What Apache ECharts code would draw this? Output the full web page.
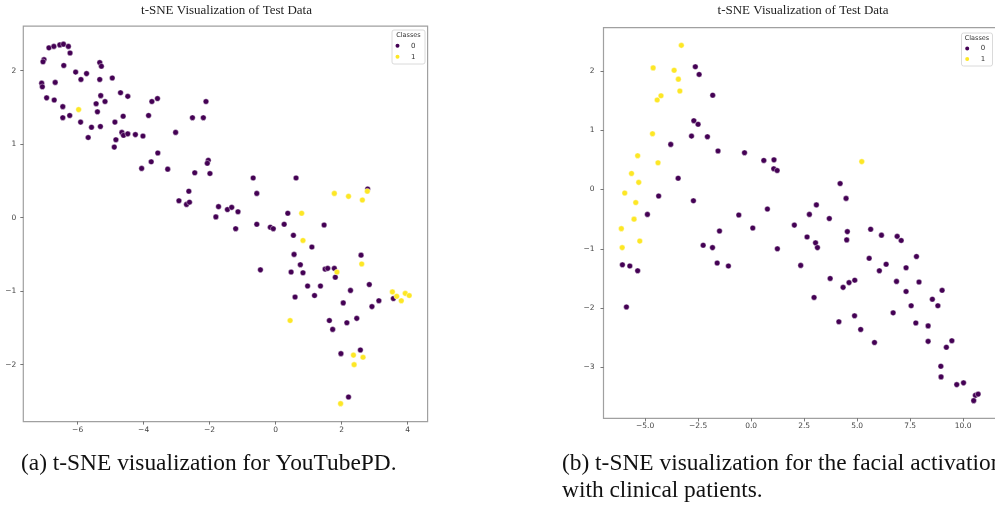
<!DOCTYPE html>
<html>
<head>
<meta charset="utf-8">
<script src="https://cdn.jsdelivr.net/npm/echarts@6/dist/echarts.min.js"></script>
<style>
  html, body { margin: 0; padding: 0; background: #fff; }
  #chart { width: 995px; height: 513px; }
</style>
</head>
<body>
<div id="chart"></div>
<script>
// ── Data: panel (a) YouTubePD, [x, y] per point ─────────────────────────
const ytpdClass0 = [
  [-6.87,2.31],[-6.72,2.33],[-6.54,2.35],[-6.43,2.36],[-6.28,2.33],[-6.23,2.24],[-7.02,2.15],[-7.05,2.12],[-6.42,2.07],[-5.33,2.11],[-5.28,2.06],
  [-7.09,1.83],[-7.07,1.78],[-6.68,1.84],[-6.06,1.98],[-5.90,1.88],[-5.73,1.96],[-5.33,1.88],[-4.95,1.90],
  [-6.94,1.63],[-6.71,1.60],[-6.45,1.51],[-6.45,1.36],[-6.24,1.39],[-5.91,1.30],[-5.44,1.55],[-5.30,1.66],[-5.17,1.58],[-5.40,1.44],[-5.58,1.23],[-5.31,1.24],[-5.68,1.09],
  [-4.70,1.70],[-4.48,1.65],[-4.62,1.38],[-4.87,1.30],[-4.66,1.16],[-4.61,1.12],[-4.48,1.14],[-4.25,1.13],[-4.02,1.11],[-4.84,1.06],[-4.89,0.96],
  [-3.75,1.58],[-3.58,1.62],[-3.85,1.39],[-3.03,1.16],[-2.11,1.58],[-2.52,1.36],[-2.19,1.36],
  [-3.57,0.88],[-3.77,0.76],[-4.06,0.67],[-3.27,0.66],[-2.45,0.61],[-2.04,0.78],[-2.07,0.74],[-1.99,0.60],
  [-0.68,0.54],[0.62,0.54],[-0.57,0.33],[-2.63,0.36],[-2.93,0.23],[-2.70,0.18],[-2.61,0.21],[2.79,0.39],
  [-1.73,0.15],[-1.46,0.11],[-1.33,0.14],[-1.14,0.08],[-1.81,0.01],[0.37,0.06],[1.47,-0.10],[-0.57,-0.09],[-0.16,-0.13],[-0.07,-0.15],[0.26,-0.09],[-1.21,-0.15],
  [0.54,-0.24],[1.10,-0.40],[0.56,-0.50],[2.59,-0.51],[0.75,-0.64],[-0.46,-0.71],[0.47,-0.74],[0.83,-0.75],[1.50,-0.70],[1.58,-0.69],[1.78,-0.69],[1.81,-0.81],
  [0.97,-0.93],[1.36,-0.93],[2.27,-0.99],[2.84,-0.91],[0.59,-1.08],[1.18,-1.06],[2.05,-1.16],[2.92,-1.21],[3.13,-1.13],[3.57,-1.10],
  [1.63,-1.40],[1.73,-1.52],[2.16,-1.43],[2.46,-1.37],[1.98,-1.85],[2.57,-1.80],[2.21,-2.44]
];
const ytpdClass1 = [
  [-5.97,1.47],[1.78,0.33],[2.21,0.29],[2.63,0.24],[2.78,0.36],[0.79,0.06],[0.83,-0.31],[2.61,-0.63],[1.86,-0.74],
  [3.54,-1.01],[3.67,-1.07],[3.81,-1.13],[3.93,-1.03],[4.05,-1.06],[0.44,-1.40],[2.36,-1.87],[2.65,-1.90],[2.38,-2.00],[1.97,-2.53]
];

// ── Data: panel (b) clinical patients ───────────────────────────────────
const clinicClass0 = [
  [-2.63,2.07],[-2.45,1.94],[-1.81,1.59],[-2.70,1.16],[-2.50,1.10],[-2.81,0.90],[-2.06,0.89],[-3.79,0.76],[-1.56,0.65],[-0.31,0.62],
  [0.60,0.49],[1.08,0.50],[1.07,0.35],[1.23,0.32],[-3.44,0.19],[4.20,0.10],[4.48,-0.15],[-4.36,-0.11],[-2.72,-0.19],[-4.89,-0.42],
  [-0.58,-0.43],[0.77,-0.33],[2.75,-0.42],[3.08,-0.26],[3.69,-0.49],[0.08,-0.65],[2.04,-0.60],[-1.49,-0.70],[5.64,-0.67],[4.54,-0.71],
  [4.51,-0.85],[6.15,-0.77],[6.89,-0.79],[7.08,-0.86],[-6.07,-1.27],[-5.72,-1.29],[-5.35,-1.37],[-5.88,-1.98],[-2.26,-0.94],[-1.82,-0.98],
  [-1.60,-1.24],[-1.07,-1.29],[1.24,-1.00],[2.64,-0.80],[3.04,-0.90],[3.13,-0.98],[2.34,-1.28],[2.97,-1.82],[3.73,-1.50],[4.34,-1.65],
  [4.62,-1.57],[4.89,-1.53],[5.57,-1.16],[6.05,-1.37],[6.37,-1.26],[6.86,-1.55],[7.31,-1.32],[7.31,-1.72],[7.80,-1.13],[7.92,-1.56],
  [7.55,-1.96],[6.70,-2.08],[7.77,-2.25],[8.35,-2.30],[8.55,-1.85],[8.81,-1.96],[9.01,-1.70],[8.35,-2.56],[9.21,-2.66],[9.47,-2.55],
  [4.14,-2.23],[4.88,-2.13],[5.17,-2.36],[5.82,-2.58],[8.95,-2.98],[8.96,-3.16],[9.70,-3.29],[10.02,-3.26],[10.58,-3.47],[10.71,-3.45],[10.50,-3.56]
];
const clinicClass1 = [
  [-3.29,2.43],[-4.62,2.05],[-3.63,2.01],[-3.43,1.86],[-3.36,1.66],[-4.43,1.51],[-4.25,1.58],[-4.65,0.94],[-4.39,0.45],[-5.35,0.57],
  [-5.64,0.27],[-5.30,0.12],[-5.96,-0.06],[-5.44,-0.22],[-5.52,-0.50],[-6.12,-0.66],[5.22,0.47],[-5.25,-0.87],[-6.08,-0.98]
];

// ── Tick labels ─────────────────────────────────────────────────────────
const ytpdXTicks   = [-6, -4, -2, 0, 2, 4];
const ytpdYTicks   = [-2, -1, 0, 1, 2];
const clinicXTicks = [-5, -2.5, 0, 2.5, 5, 7.5, 10];
const clinicYTicks = [-3, -2, -1, 0, 1, 2];

const classNames = ['0', '1'];
const panelTitle = 't-SNE Visualization of Test Data';
const captionA   = '(a) t-SNE visualization for YouTubePD.';
const captionB1  = '(b) t-SNE visualization for the facial activation';
const captionB2  = 'with clinical patients.';

// ── Style ───────────────────────────────────────────────────────────────
const purple    = '#440154';
const yellow    = '#fde725';
const frame     = '#a0a0a0';
const tickText  = '#444';
const sansFont  = '"DejaVu Sans", sans-serif';
const serifFont = '"Liberation Serif", "DejaVu Serif", serif';
const capFont   = '23.4px ' + serifFont;

// matplotlib-style autoscale: data range plus 5% each side
function limits(sets, dim) {
  const vals = [].concat(...sets).map(p => p[dim]);
  const lo = Math.min(...vals), hi = Math.max(...vals), pad = (hi - lo) * 0.05;
  return [lo - pad, hi + pad];
}
const minus = s => String(s).replace('-', '\u2212');

function axis(gridIndex, [min, max], ticks, fmt, margin) {
  return {
    type: 'value', gridIndex, min, max, scale: true,
    axisLine: { show: false, onZero: false },
    splitLine: { show: false },
    axisTick: { show: true, customValues: ticks, length: 3, lineStyle: { color: '#555', width: 0.8 } },
    axisLabel: { customValues: ticks, formatter: fmt, margin,
                 fontSize: 7.5, fontFamily: sansFont, color: tickText },
  };
}

function scatter(name, data, xi, color) {
  return {
    name, type: 'scatter', xAxisIndex: xi, yAxisIndex: xi, data,
    symbol: 'circle', symbolSize: 5.6,
    itemStyle: { color, borderColor: '#fff', borderWidth: 0.4, opacity: 1 },
    emphasis: { disabled: true },
  };
}

function legendBox(x, y, w, h, titleY) {
  return [
    { type: 'rect', z: 3, shape: { x, y, width: w, height: h, r: 2 },
      style: { fill: 'rgba(255,255,255,0.85)', stroke: '#d0d0d0', lineWidth: 0.8 } },
    { type: 'text', z: 5, style: { text: 'Classes', x: x + w / 2, y: titleY, align: 'center',
      verticalAlign: 'middle', font: '6.5px ' + sansFont, fill: '#333' } },
  ];
}

// y is the vertical middle of the caption line
function caption(text, x, y) {
  return { type: 'text', style: { text, x, y, verticalAlign: 'middle', font: capFont, fill: '#111' } };
}

const chart = echarts.init(document.getElementById('chart'), null, { renderer: 'canvas' });
chart.setOption({
  animation: false,
  backgroundColor: '#fff',
  grid: [
    { left: 23.3, top: 26.2, width: 404.3, height: 395.4, show: true, borderColor: frame, borderWidth: 1.2,
      backgroundColor: '#fff', outerBoundsMode: 'none' },
    { left: 603.5, top: 27.6, width: 392.5, height: 390.8, show: true, borderColor: frame, borderWidth: 1.2,
      backgroundColor: '#fff', outerBoundsMode: 'none' },
  ],
  xAxis: [
    axis(0, limits([ytpdClass0, ytpdClass1], 0), ytpdXTicks, v => minus(v), 4),
    axis(1, limits([clinicClass0, clinicClass1], 0), clinicXTicks, v => minus(v.toFixed(1)), 4),
  ],
  yAxis: [
    axis(0, limits([ytpdClass0, ytpdClass1], 1), ytpdYTicks, v => minus(v), 7),
    axis(1, limits([clinicClass0, clinicClass1], 1), clinicYTicks, v => minus(v), 9),
  ],
  legend: [
    { data: classNames, orient: 'vertical', left: 393.5, top: 41.7, itemGap: 3, padding: 0,
      icon: 'circle', itemWidth: 17, itemHeight: 6, selectedMode: false,
      textStyle: { fontSize: 7, fontFamily: sansFont, color: '#333', lineHeight: 8 } },
    { data: classNames, orient: 'vertical', left: 963.2, top: 44.5, itemGap: 2.5, padding: 0,
      icon: 'circle', itemWidth: 17, itemHeight: 6, selectedMode: false,
      textStyle: { fontSize: 7, fontFamily: sansFont, color: '#333', lineHeight: 8 } },
  ],
  series: [
    scatter(classNames[0], ytpdClass0, 0, purple),
    scatter(classNames[1], ytpdClass1, 0, yellow),
    scatter(classNames[0], clinicClass0, 1, purple),
    scatter(classNames[1], clinicClass1, 1, yellow),
  ],
  graphic: [
    { type: 'text', style: { text: panelTitle, x: 226.5, y: 11, align: 'center', verticalAlign: 'middle',
      font: '13px ' + serifFont, fill: '#222' } },
    { type: 'text', style: { text: panelTitle, x: 803, y: 11, align: 'center', verticalAlign: 'middle',
      font: '13px ' + serifFont, fill: '#222' } },
    ...legendBox(392, 30, 33, 34, 35.5),
    ...legendBox(961.5, 33, 31, 33, 38.5),
    caption(captionA, 21, 464),
    caption(captionB1, 562, 464),
    caption(captionB2, 562, 491),
  ],
});
</script>
</body>
</html>
